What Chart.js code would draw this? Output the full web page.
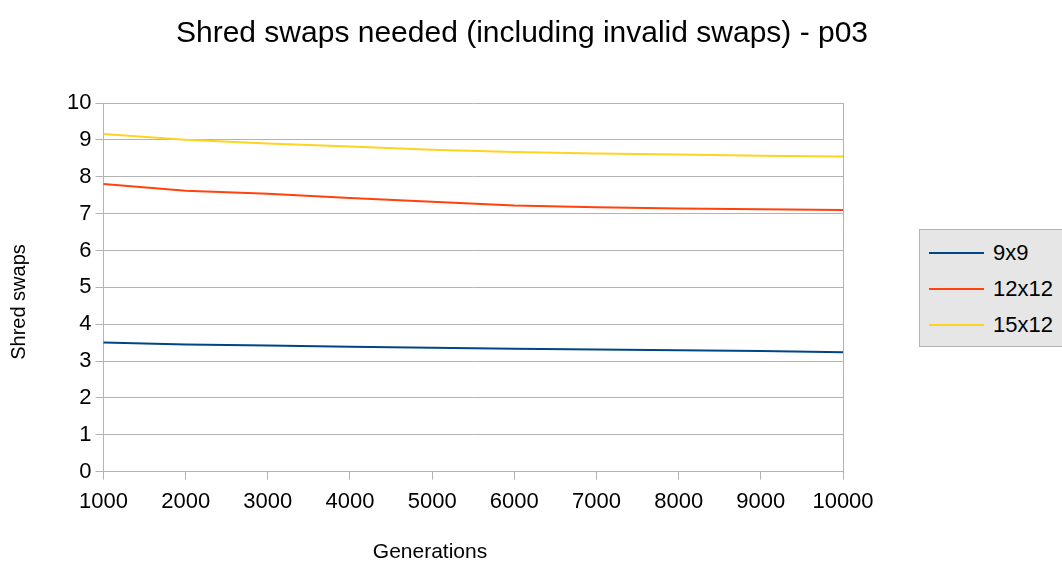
<!DOCTYPE html>
<html>
<head>
<meta charset="utf-8">
<script src="https://cdn.jsdelivr.net/npm/chart.js@4/dist/chart.umd.min.js"></script>
<style>
	body { margin: 0; background: #fff; font-family: "Liberation Sans", Arial, sans-serif; }
	#wrap { position: relative; width: 1062px; height: 566px; overflow: hidden; }
	#chartTitle { position: absolute; left: 0; top: 17px; width: 1044px; text-align: center; font-size: 30px; line-height: 30px; color: #000; white-space: nowrap; }
	#xTitle { position: absolute; left: 330px; top: 539px; width: 200px; text-align: center; font-size: 21px; line-height: 24px; color: #000; }
	#yTitle { position: absolute; left: -82px; top: 290px; width: 200px; text-align: center; font-size: 20px; line-height: 24px; color: #000; transform: rotate(-90deg); }
	#legendBox { position: absolute; left: 919px; top: 229px; width: 160px; height: 116px; background: #e6e6e6; border: 1px solid #b3b3b3; }
	.lgItem { position: absolute; left: 0; height: 36px; width: 160px; }
	.lgLine { position: absolute; left: 9px; top: 17px; width: 55px; height: 2px; }
	.lgText { position: absolute; left: 73px; top: 0; font-size: 22px; line-height: 36px; color: #000; }
</style>
</head>
<body>
<div id="wrap">
	<canvas id="myChart" width="1062" height="566"></canvas>
	<div id="chartTitle"></div>
	<div id="xTitle"></div>
	<div id="yTitle"></div>
	<div id="legendBox"></div>
</div>
<script>
var sTitle = "Shred swaps needed (including invalid swaps) - p03";
var sXTitle = "Generations";
var sYTitle = "Shred swaps";
var aGenerations = ['1000','2000','3000','4000','5000','6000','7000','8000','9000','10000'];
var a9x9   = [3.50, 3.45, 3.42, 3.39, 3.36, 3.33, 3.31, 3.29, 3.27, 3.24];
var a12x12 = [7.80, 7.62, 7.54, 7.42, 7.32, 7.22, 7.17, 7.14, 7.12, 7.10];
var a15x12 = [9.16, 9.00, 8.90, 8.82, 8.73, 8.67, 8.63, 8.60, 8.57, 8.55];
var aSeriesNames = ['9x9', '12x12', '15x12'];
var aColors = ['#004586', '#ff420e', '#ffd320'];

var sGrid = '#b3b3b3';
var nLast = aGenerations.length - 1;

$ = function(id) { return document.getElementById(id); };
$('chartTitle').textContent = sTitle;
$('xTitle').textContent = sXTitle;
$('yTitle').textContent = sYTitle;

const ctx = $('myChart');
var oChart = new Chart(ctx, {
	type: 'line',
	data: {
		labels: aGenerations,
		datasets: [
			{ label: aSeriesNames[0], data: a9x9, borderColor: aColors[0], backgroundColor: aColors[0] },
			{ label: aSeriesNames[1], data: a12x12, borderColor: aColors[1], backgroundColor: aColors[1] },
			{ label: aSeriesNames[2], data: a15x12, borderColor: aColors[2], backgroundColor: aColors[2] }
		]
	},
	options: {
		responsive: false,
		animation: false,
		layout: { padding: { top: 103, right: 219, bottom: 42, left: 63 } },
		elements: {
			point: { radius: 0 },
			line: { borderWidth: 2, tension: 0 }
		},
		plugins: {
			legend: { display: false },
			title: { display: false },
			tooltip: { enabled: false }
		},
		scales: {
			x: {
				offset: false,
				grid: {
					color: function(c) { return c.index === nLast ? sGrid : 'rgba(0,0,0,0)'; },
					tickColor: sGrid,
					tickLength: 8,
					lineWidth: 1
				},
				border: { color: sGrid, width: 1 },
				ticks: { color: '#000', font: { family: 'Liberation Sans', size: 22 }, padding: 9, maxRotation: 0, autoSkip: false }
			},
			y: {
				min: 0,
				max: 10,
				ticks: { stepSize: 1, color: '#000', font: { family: 'Liberation Sans', size: 22 }, padding: 4 },
				grid: { color: sGrid, tickColor: sGrid, tickLength: 8, lineWidth: 1 },
				border: { color: sGrid, width: 1 }
			}
		}
	}
});

// html legend from the datasets
function _buildLegend(chart) {
	var sHtml = '';
	chart.data.datasets.forEach(function(ds, i) {
		sHtml += `<div class="lgItem" style="top:${5 + i * 36}px">
			<div class="lgLine" style="background:${ds.borderColor}"></div>
			<div class="lgText">${ds.label}</div>
		</div>`;
	});
	$('legendBox').innerHTML = sHtml;
}
_buildLegend(oChart);
</script>
</body>
</html>
